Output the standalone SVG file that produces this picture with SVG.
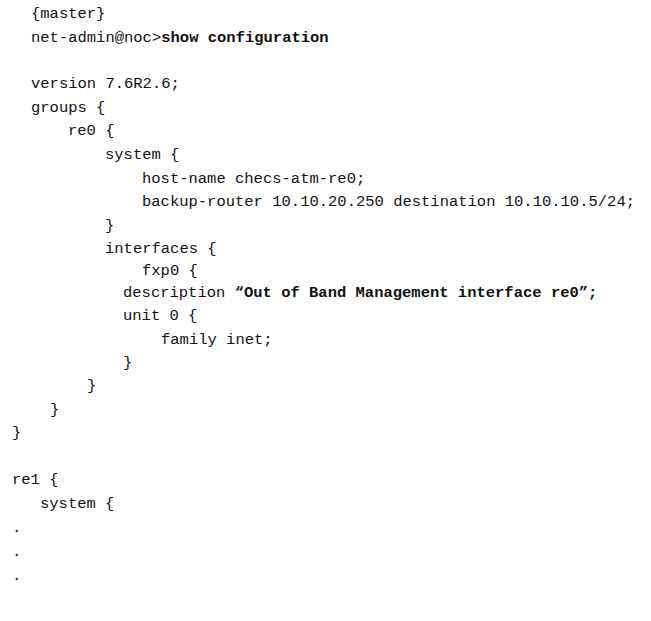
<svg xmlns="http://www.w3.org/2000/svg" width="651" height="621" viewBox="0 0 651 621">
<style>text{font-family:"Liberation Mono","Courier New",monospace;font-size:15.5px;fill:#111}.b{font-weight:bold}</style>
<rect width="651" height="621" fill="#fff"/>
<g id="listing">
<text x="31" y="18">{master}</text>
<text x="31" y="42">net-admin@noc&gt;<tspan class="b">show configuration</tspan></text>
<text x="31" y="88">version 7.6R2.6;</text>
<text x="31" y="112">groups {</text>
<text x="68" y="135">re0 {</text>
<text x="105" y="159">system {</text>
<text x="142" y="183">host-name checs-atm-re0;</text>
<text x="142" y="206">backup-router 10.10.20.250 destination 10.10.10.5/24;</text>
<text x="105" y="230">}</text>
<text x="105" y="253">interfaces {</text>
<text x="142" y="275">fxp0 {</text>
<text x="123" y="297">description <tspan class="b">“Out of Band Management interface re0”;</tspan></text>
<text x="123" y="320">unit 0 {</text>
<text x="161" y="344">family inet;</text>
<text x="123" y="367">}</text>
<text x="87" y="390">}</text>
<text x="50" y="414">}</text>
<text x="12" y="437">}</text>
<text x="12" y="484">re1 {</text>
<text x="40" y="508">system {</text>
<text x="12" y="532">.</text>
<text x="12" y="556">.</text>
<text x="12" y="580">.</text>
</g>
</svg>
